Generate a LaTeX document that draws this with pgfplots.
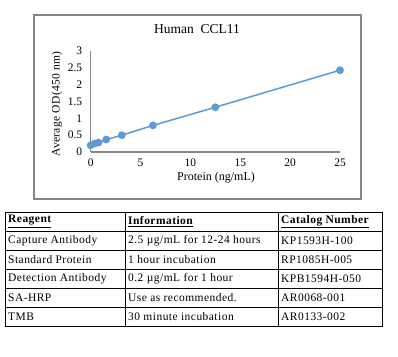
\documentclass[border=0pt]{standalone}
\usepackage{pgfplots}
\pgfplotsset{compat=1.18}
\usepackage{fontspec}
\setmainfont{Liberation Serif}
\definecolor{exblue}{HTML}{5B9BD5}
\definecolor{axgray}{HTML}{868686}
\begin{document}
\begin{tikzpicture}
\begin{scope}[x=1pt,y=1pt]
\useasboundingbox (0,0) rectangle (398,356);
% chart frame
\draw[axgray, line width=1.3pt] (34,341) rectangle (361,157);
\node[font=\fontsize{13.5}{15}\selectfont] at (197,327) {Human\ \ CCL11};
\node[font=\fontsize{12}{13}\selectfont] at (216,178) {Protein (ng/mL)};
\node[font=\fontsize{11.5}{13}\selectfont\addfontfeature{LetterSpace=3}, rotate=90] at (57,252) {Average OD(450 nm)};
% table
\draw[black, line width=0.9pt] (5,144) rectangle (382,30);
\foreach \yy in {125,106,87,68,49} {\draw[black, line width=0.9pt] (5,\yy) -- (382,\yy);}
\draw[black, line width=0.9pt] (125,144) -- (125,30);
\draw[black, line width=0.9pt] (278,144) -- (278,30);
\begin{scope}[every node/.style={anchor=west, inner sep=0pt, font=\fontsize{11.5}{13}\selectfont\addfontfeature{LetterSpace=4}}]
\node at (8,134.5) {\textbf{\underline{Reagent}}};
\node at (128,134.5) {\textbf{\underline{Information}}};
\node at (281,134.5) {\textbf{\underline{Catalog Number}}};
\node at (8,115.5) {Capture Antibody};
\node at (128,115.5) {2.5 µg/mL for 12-24 hours};
\node at (281,115.5) {KP1593H-100};
\node at (8,96.5) {Standard Protein};
\node at (128,96.5) {1 hour incubation};
\node at (281,96.5) {RP1085H-005};
\node at (8,77.5) {Detection Antibody};
\node at (128,77.5) {0.2 µg/mL for 1 hour};
\node at (281,77.5) {KPB1594H-050};
\node at (8,58.5) {SA-HRP};
\node at (128,58.5) {Use as recommended.};
\node at (281,58.5) {AR0068-001};
\node at (8,39.5) {TMB};
\node at (128,39.5) {30 minute incubation};
\node at (281,39.5) {AR0133-002};
\end{scope}
\end{scope}
\begin{axis}[
  at={(90.7pt,204pt)}, anchor=south west,
  scale only axis, width=249.3pt, height=101pt,
  xmin=0, xmax=25, ymin=0, ymax=3,
  axis lines=left,
  axis line style={axgray, line width=1.3pt, -},
  xtick={0,5,10,15,20,25},
  ytick={0,0.5,1,1.5,2,2.5,3},
  yticklabels={0,0.5,1,1.5,2,2.5,3},
  major tick length=0pt,
  tick style={draw=none},
  /pgf/number format/assume math mode=true,
  tick label style={font=\fontsize{11.5}{12}\selectfont, text=black},
  yticklabel style={xshift=-5pt},
  xticklabel style={yshift=-3pt},
  clip=false,
]
\addplot[exblue, line width=1.5pt, mark=*, mark size=3.1pt, mark options={fill=exblue, draw=exblue}]
coordinates {(0,0.20) (0.39,0.25) (0.78,0.28) (1.56,0.37) (3.125,0.50) (6.25,0.79) (12.5,1.33) (25,2.43)};
\end{axis}
\end{tikzpicture}
\end{document}
